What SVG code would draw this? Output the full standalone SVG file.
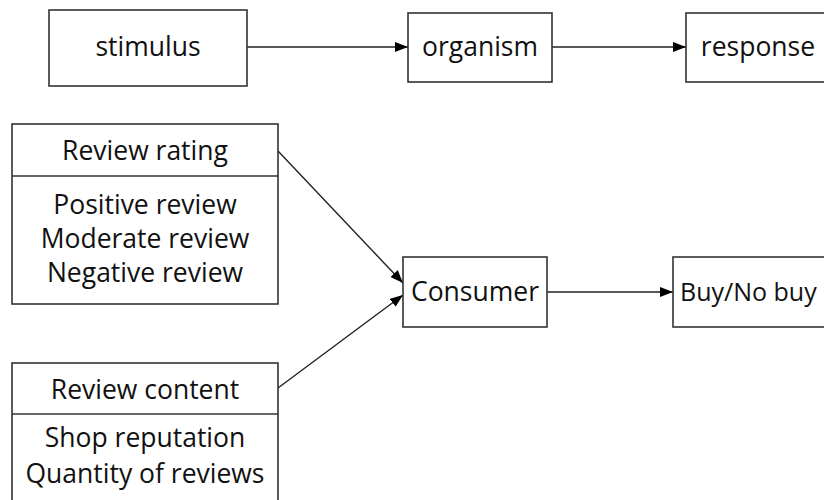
<svg xmlns="http://www.w3.org/2000/svg" width="824" height="500" viewBox="0 0 824 500">
<defs>
<marker id="ah" viewBox="0 0 13 10" refX="13" refY="5" markerWidth="13" markerHeight="10" markerUnits="userSpaceOnUse" orient="auto">
<path d="M0,0 L13,5 L0,10 Z" fill="#000"/>
</marker>
<style>
.n rect{fill:#fff;stroke:#333;stroke-width:1.6}
.dv{stroke:#333;stroke-width:1.6}
text{font-family:"Open Sans","Liberation Sans",sans-serif;font-size:26.5px;fill:#111;text-anchor:middle}
.c line{stroke:#222;stroke-width:1.4;marker-end:url(#ah)}
</style>
</defs>
<rect width="824" height="500" fill="#fff"/>
<g id="connectors" class="c">
<line x1="247" y1="47" x2="408" y2="47"/>
<line x1="552" y1="47" x2="686" y2="47"/>
<line x1="278" y1="151" x2="403" y2="283"/>
<line x1="278" y1="388" x2="403" y2="295"/>
<line x1="547" y1="292" x2="673" y2="292"/>
</g>
<g id="stimulus" class="n"><rect x="49" y="10" width="198" height="76"/><text x="148" y="56">stimulus</text></g>
<g id="organism" class="n"><rect x="408" y="13" width="144" height="69"/><text x="480" y="56">organism</text></g>
<g id="response" class="n"><rect x="686" y="13" width="145" height="69"/><text x="758" y="56">response</text></g>
<g id="review-rating" class="n"><rect x="12" y="124" width="266" height="180"/><line class="dv" x1="12" y1="176" x2="278" y2="176"/>
<text x="145" y="160">Review rating</text>
<text x="145" y="214">Positive review</text>
<text x="145" y="248">Moderate review</text>
<text x="145" y="282">Negative review</text></g>
<g id="consumer" class="n"><rect x="403" y="257" width="144" height="70"/><text x="475" y="301">Consumer</text></g>
<g id="buy" class="n"><rect x="673" y="257" width="160" height="70"/><text x="680" y="301" style="text-anchor:start;font-size:25px">Buy/No buy</text></g>
<g id="review-content" class="n"><rect x="12" y="363" width="266" height="150"/><line class="dv" x1="12" y1="414" x2="278" y2="414"/>
<text x="145" y="399">Review content</text>
<text x="145" y="447">Shop reputation</text>
<text x="145" y="483">Quantity of reviews</text></g>
</svg>
